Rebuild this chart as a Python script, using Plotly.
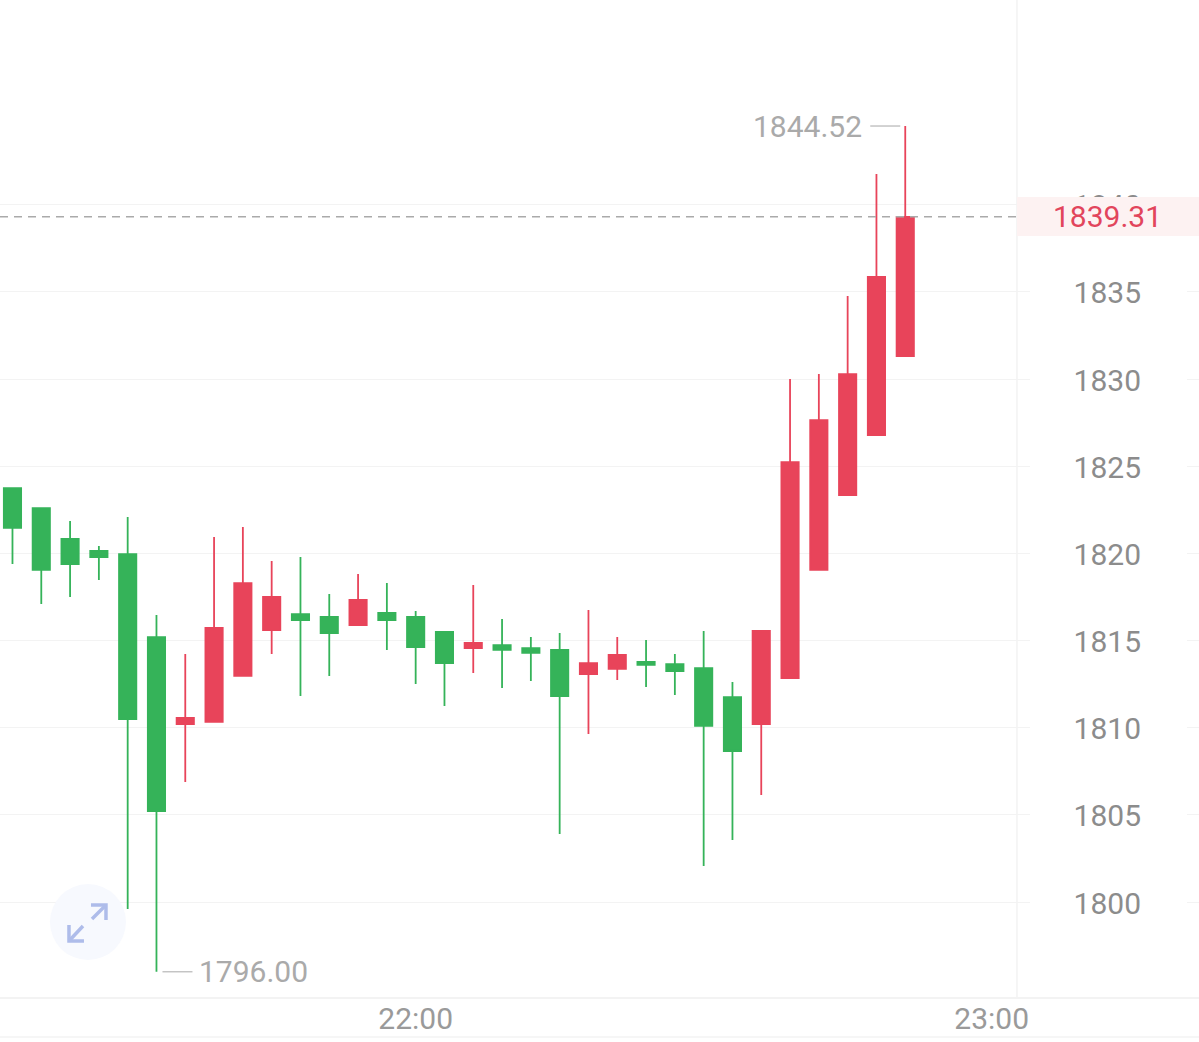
import plotly.graph_objects as go

W, H = 1199, 1042
PLOT_B = 997

times = ["21:18","21:21","21:24","21:27","21:30","21:33","21:36","21:39","21:42","21:45","21:48",
         "21:51","21:54","21:57","22:00","22:03","22:06","22:09","22:12","22:15","22:18","22:21",
         "22:24","22:27","22:30","22:33","22:36","22:39","22:42","22:45","22:48","22:51"]
opens  = [1823.75,1822.60,1820.83,1820.14,1819.96,1815.20,1810.21,1810.33,1812.97,1815.60,1816.52,
          1816.35,1815.89,1816.58,1816.35,1815.49,1814.57,1814.74,1814.57,1814.46,1813.08,1813.37,
          1813.77,1813.65,1813.42,1811.76,1810.21,1812.85,1819.05,1823.35,1826.79,1831.32]
closes = [1821.46,1819.05,1819.39,1819.79,1810.50,1805.22,1810.56,1815.72,1818.30,1817.50,1816.18,
          1815.43,1817.33,1816.18,1814.63,1813.71,1814.86,1814.46,1814.29,1811.82,1813.71,1814.17,
          1813.60,1813.25,1810.10,1808.66,1815.55,1825.24,1827.65,1830.29,1835.86,1839.31]
highs  = [1823.75,1822.60,1821.86,1820.42,1822.09,1816.47,1814.23,1820.94,1821.51,1819.56,1819.79,
          1817.67,1818.82,1818.30,1816.69,1815.49,1818.19,1816.24,1815.20,1815.43,1816.75,1815.20,
          1815.03,1814.23,1815.55,1812.62,1815.55,1830.00,1830.29,1834.77,1841.77,1844.52]
lows   = [1819.39,1817.10,1817.50,1818.47,1799.60,1796.00,1806.88,1810.33,1812.97,1814.23,1811.82,
          1812.97,1815.89,1814.46,1812.51,1811.24,1813.14,1812.28,1812.68,1803.90,1809.64,1812.74,
          1812.33,1811.88,1802.07,1803.56,1806.14,1812.85,1819.05,1823.35,1826.79,1831.32]
y_ticks = [1800,1805,1810,1815,1820,1825,1830,1835,1840]
x_ticks = ["22:00","23:00"]

DAY = "2023-01-01 "
dates = [DAY + t for t in times]

RED, GREEN = "#e8445a", "#35b359"
GRID = "#f3f3f3"

# Decorations that must sit above the grid are anchored on the data axes and sized in pixels.
ANCHOR_PX, ANCHOR_PY = 12.5, 902


def px(x):
    return x / W


def py(y):
    return 1 - y / PLOT_B


def deco(kind, x0, x1, y0, y1, **kw):
    return dict(type=kind, xref="x", yref="y", xsizemode="pixel", ysizemode="pixel",
                xanchor=dates[0], yanchor=y_ticks[0],
                x0=x0 - ANCHOR_PX, x1=x1 - ANCHOR_PX, y0=ANCHOR_PY - y0, y1=ANCHOR_PY - y1,
                layer="between", **kw)


def deco_path(points, **kw):
    d = "M" + " L".join(f"{a - ANCHOR_PX:.1f},{ANCHOR_PY - b:.1f}" for a, b in points)
    return dict(type="path", xref="x", yref="y", xsizemode="pixel", ysizemode="pixel",
                xanchor=dates[0], yanchor=y_ticks[0], path=d, layer="between", **kw)


fig = go.Figure(go.Candlestick(
    x=dates, open=opens, high=highs, low=lows, close=closes,
    increasing=dict(line=dict(color=RED, width=1.8), fillcolor=RED),
    decreasing=dict(line=dict(color=GREEN, width=1.8), fillcolor=GREEN),
    whiskerwidth=0, showlegend=False, hoverinfo="skip",
))

shapes = [
    # white gap in the grid behind the price labels
    deco("rect", 1030, 1187, 0, PLOT_B, fillcolor="white", line_width=0),
    # price-axis separator
    deco("line", 1017, 1017, 0, PLOT_B, line=dict(color=GRID, width=1.5)),
    # lower rule
    dict(type="line", xref="paper", yref="paper", x0=0, x1=1, y0=py(1037), y1=py(1037),
         line=dict(color=GRID, width=1.5)),
    # expand button
    deco("circle", 50, 126, 884, 960, fillcolor="#f7f9fe", line_width=0),
    # current price line and tag
    dict(type="line", xref="paper", yref="y", x0=0, x1=px(1017), y0=closes[-1], y1=closes[-1],
         line=dict(color="#aaaaaa", width=1.5, dash="8px,6px")),
    dict(type="rect", xref="paper", yref="paper", x0=px(1017), x1=1, y0=py(236), y1=py(197),
         fillcolor="#fdf2f2", line_width=0),
    # high and low leaders
    dict(type="line", xref="x", yref="y", xsizemode="pixel", xanchor=dates[-1], x0=-35, x1=-5,
         y0=max(highs), y1=max(highs), line=dict(color="#c4c4c4", width=1.5)),
    dict(type="line", xref="x", yref="y", xsizemode="pixel", xanchor=dates[5], x0=6, x1=36,
         y0=min(lows), y1=min(lows), line=dict(color="#c4c4c4", width=1.5)),
]
for pts in ([(92, 919), (106, 905)], [(91, 905), (106, 905), (106, 920)],
            [(83, 926), (69, 941)], [(69, 925), (69, 941), (84, 941)]):
    shapes.append(deco_path(pts, line=dict(color="#aebcea", width=3.5)))

annotations = [
    dict(xref="paper", yref="y", x=px(1107.5), y=closes[-1], text=f"{closes[-1]:.2f}", showarrow=False,
         xanchor="center", font=dict(family="Roboto", size=30, color="#e2455c")),
    dict(xref="x", yref="y", x=dates[-1], y=max(highs), text=f"{max(highs):.2f}", showarrow=False,
         xanchor="right", xshift=-41, yshift=0, font=dict(family="Roboto", size=30, color="#aaaaaa")),
    dict(xref="x", yref="y", x=dates[5], y=min(lows), text=f"{min(lows):.2f}", showarrow=False,
         xanchor="left", xshift=41, yshift=0, font=dict(family="Roboto", size=30, color="#aaaaaa")),
]

fig.update_layout(
    width=W, height=H, autosize=False,
    margin=dict(l=0, r=0, t=0, b=H - PLOT_B, pad=0),
    paper_bgcolor="white", plot_bgcolor="white",
    boxgap=0.40, boxgroupgap=0, showlegend=False, shapes=shapes, annotations=annotations,
    xaxis=dict(
        type="date", range=["2023-01-01 21:16:42", "2023-01-01 23:21:36"],
        rangeslider=dict(visible=False), showgrid=False, zeroline=False,
        tickmode="array", tickvals=[DAY + t for t in x_ticks], ticktext=x_ticks,
        ticks="", showline=True, linecolor=GRID, linewidth=1.5, ticklabelstandoff=-6,
        tickfont=dict(family="Roboto", size=30, color="#9a9a9a"),
    ),
    yaxis=dict(
        side="right", range=[1794.55, 1851.75], tickmode="array", tickvals=y_ticks,
        ticktext=[str(v) for v in y_ticks], ticks="", showline=False, zeroline=False,
        showgrid=True, gridcolor=GRID, gridwidth=1,
        ticklabelposition="inside", ticklabelstandoff=55, ticklabelshift=1,
        tickfont=dict(family="Roboto", size=30, color="#8c8c8c"),
    ),
)
fig.write_html("out.html", config=dict(displayModeBar=False),
               post_script="document.body.style.margin='0';document.body.style.overflow='hidden';")
